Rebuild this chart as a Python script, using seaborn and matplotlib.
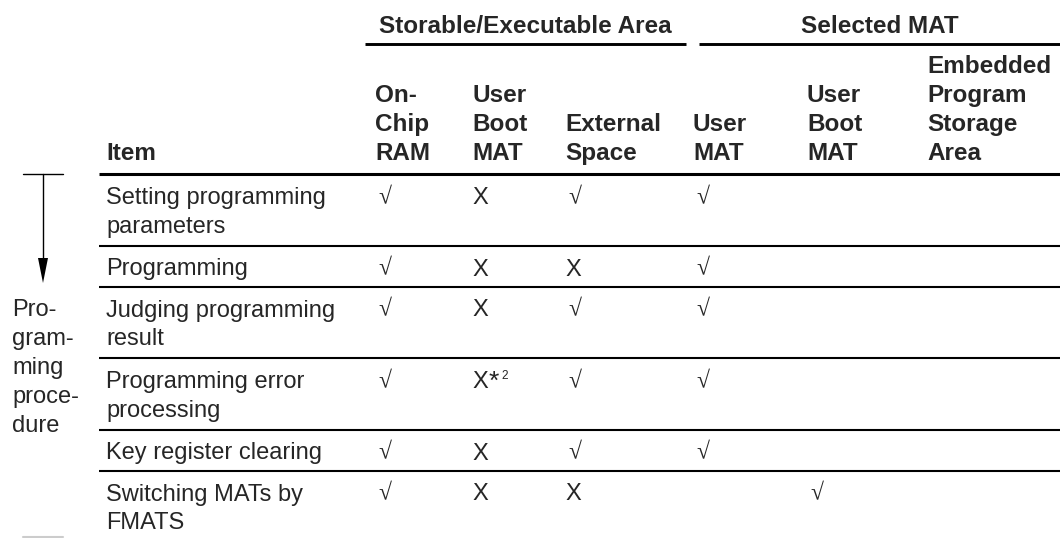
import matplotlib
matplotlib.use("Agg")
import matplotlib.pyplot as plt
import seaborn as sns

# Datos de la tabla
group_headers = ["Storable/Executable Area", "Selected MAT"]
col_headers = ["On-\nChip\nRAM", "User\nBoot\nMAT", "External\nSpace",
               "User\nMAT", "User\nBoot\nMAT", "Embedded\nProgram\nStorage\nArea"]
items = ["Setting programming\nparameters", "Programming", "Judging programming\nresult",
         "Programming error\nprocessing", "Key register clearing", "Switching MATs by\nFMATS"]
marks = [
    ["ok", "x", "ok", "ok", "", ""],
    ["ok", "x", "x", "ok", "", ""],
    ["ok", "x", "ok", "ok", "", ""],
    ["ok", "x2", "ok", "ok", "", ""],
    ["ok", "x", "ok", "ok", "", ""],
    ["ok", "x", "x", "", "ok", ""],
]
side_label = "Pro-\ngram-\nming\nproce-\ndure"

sns.set_theme(style="white")
plt.rcParams['font.family'] = ['Liberation Sans', 'DejaVu Sans']

W, H = 1060, 538
fig = plt.figure(figsize=(W / 100, H / 100), dpi=100)
ax = fig.add_axes([0, 0, 1, 1])
ax.set_xlim(0, W)
ax.set_ylim(H, 0)
ax.axis("off")

# Layout (pixeles)
item_x = 106
col_x = [375, 472, 565, 693, 807, 927]
pitch = 29
fs = 17

# Cabeceras de grupo
ax.text(525, 33, group_headers[0], fontsize=17.5, fontweight="bold", ha="center", va="baseline")
ax.text(880, 33, group_headers[1], fontsize=17.5, fontweight="bold", ha="center", va="baseline")
ax.plot([365, 686], [44, 44], color="black", lw=2.1, solid_capstyle="butt")
ax.plot([699, W], [44, 44], color="black", lw=2.1, solid_capstyle="butt")

# Cabeceras de columnas (alineadas abajo)
head_base = 160
ax.text(item_x, head_base, "Item", fontsize=17.5, fontweight="bold", va="baseline")
for x, lab in zip(col_x, col_headers):
    lines = lab.split("\n")
    for i, ln in enumerate(lines):
        y = head_base - (len(lines) - 1 - i) * pitch
        ax.text(x, y, ln, fontsize=17.5, fontweight="bold", va="baseline")

rule_y = 174
ax.plot([99, W], [rule_y, rule_y], color="black", lw=2.2, solid_capstyle="butt")

# Filas
top = rule_y
for r, (item, row) in enumerate(zip(items, marks)):
    lines = item.split("\n")
    base = top + 30
    for i, ln in enumerate(lines):
        ax.text(item_x, base + i * 28.5, ln, fontsize=fs, va="baseline")
    for x, m in zip(col_x, row):
        if m == "ok":
            ax.text(x + 3, base, "\u221a", fontsize=fs,
                    family=['Liberation Serif', 'DejaVu Serif'], va="baseline")
        elif m.startswith("x"):
            ax.text(x, base, "X", fontsize=fs, va="baseline")
            if m == "x2":
                # nota al pie: asterisco y superindice
                ax.text(x + 17, base + 1, "*", fontsize=19, va="baseline")
                ax.text(x + 29, base - 9, "2", fontsize=8.5, va="baseline")
    height = 41 + 30.5 * (len(lines) - 1)
    top = top + height
    if r < len(items) - 1:
        ax.plot([99, W], [top, top], color="black", lw=1.5, solid_capstyle="butt")

# Flecha del procedimiento
ax.plot([23, 63], [174, 174], color="black", lw=1)
ax.plot([43, 43], [174, 262], color="black", lw=1)
ax.fill([38, 48, 43], [258, 258, 283], color="black", lw=0)
for i, ln in enumerate(side_label.split("\n")):
    ax.text(12, 316 + i * 29, ln, fontsize=fs, va="baseline")
ax.plot([23, 63], [537, 537], color="#cccccc", lw=1.5)

fig.savefig("out.png", dpi=100)
